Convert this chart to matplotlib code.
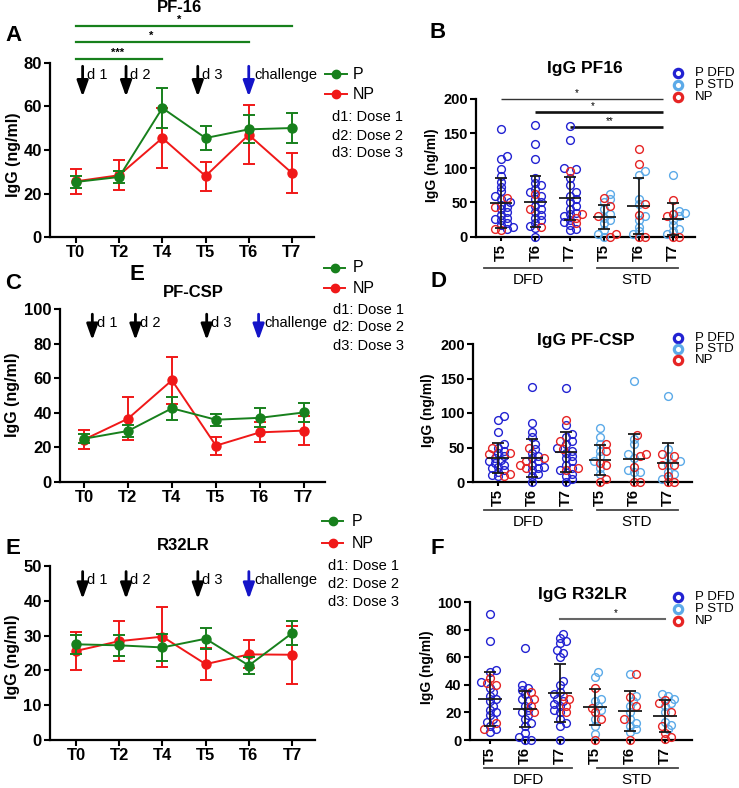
import numpy as np
import matplotlib
matplotlib.use('Agg')
import matplotlib.pyplot as plt

plt.rcParams['font.family'] = ['Liberation Sans', 'DejaVu Sans']

# ---------------- data ----------------
times = ['T0', 'T2', 'T4', 'T5', 'T6', 'T7']
scat_ticks = ['T5', 'T6', 'T7', 'T5', 'T6', 'T7']

pf16_p_mean = [25.3, 27.6, 59.3, 45.5, 49.5, 50.1]
pf16_p_err = [2.7, 2.9, 9.3, 5.7, 6.5, 6.8]
pf16_np_mean = [25.6, 28.4, 45.5, 28.0, 47.0, 29.4]
pf16_np_err = [5.8, 7.0, 14.0, 6.7, 13.5, 9.3]

csp_p_mean = [25.0, 29.5, 42.6, 36.0, 37.1, 40.2]
csp_p_err = [2.5, 3.3, 6.5, 3.5, 5.5, 5.5]
csp_np_mean = [24.5, 36.6, 58.8, 21.0, 28.7, 29.7]
csp_np_err = [5.4, 12.5, 13.5, 5.3, 5.8, 8.5]

r32_p_mean = [27.5, 27.2, 26.6, 29.1, 21.4, 30.7]
r32_p_err = [2.8, 3.0, 4.0, 3.0, 2.4, 3.5]
r32_np_mean = [25.6, 28.4, 29.7, 21.8, 24.6, 24.5]
r32_np_err = [5.5, 5.8, 8.6, 4.7, 4.0, 8.3]

# arrow positions (category index units): d1, d2, d3, challenge
pf16_arrows = [0.155, 1.16, 2.82, 4.0]
csp_arrows = [0.19, 1.17, 2.79, 3.97]
r32_arrows = [0.155, 1.16, 2.82, 4.0]
arrow_labels = ['d 1', 'd 2', 'd 3', 'challenge']

# scatter panels: per category (DFD T5,T6,T7, STD T5,T6,T7)
b_p = [[157, 117, 113, 99, 88, 80, 73, 66, 60, 55, 50, 47, 44, 40, 36, 32, 28, 26, 24, 20, 17, 14, 12],
       [162, 135, 113, 85, 78, 75, 70, 65, 60, 55, 50, 45, 40, 36, 32, 28, 24, 20, 16, 13, 0],
       [161, 140, 100, 98, 85, 75, 65, 60, 55, 50, 45, 40, 35, 33, 30, 25, 22, 18, 12, 10],
       [62, 55, 50, 40, 33, 28, 25, 20, 10, 5, 0],
       [95, 90, 55, 48, 30, 25, 15, 8, 5],
       [90, 38, 35, 30, 25, 18, 12, 8, 5]]
b_np = [[57, 44, 12, 10], [62, 40, 14], [95, 33, 28, 20],
        [57, 45, 30, 5, 0], [128, 106, 48, 32, 0, 0], [53, 33, 30, 0, 0]]
b_mean = [49, 51, 56, 29, 45, 26]
b_sd = [36, 37, 31, 18, 40, 23]

d_p = [[95, 90, 72, 55, 50, 45, 42, 38, 35, 32, 30, 28, 25, 22, 20, 18, 15, 10, 8],
       [137, 85, 72, 65, 55, 48, 42, 38, 35, 30, 25, 22, 20, 18, 12, 8, 0],
       [136, 83, 70, 65, 60, 55, 50, 45, 42, 38, 35, 30, 25, 20, 18, 12, 8, 5, 0],
       [78, 65, 55, 45, 38, 30, 20, 12],
       [146, 62, 55, 40, 35, 18, 15, 14],
       [125, 48, 38, 30, 25, 15, 12, 5]]
d_np = [[50, 42, 40, 12, 8], [50, 35, 30, 25, 20], [90, 60, 48, 20, 17],
        [55, 45, 28, 25, 5, 0], [68, 40, 38, 22, 0, 0], [40, 38, 25, 25, 8, 0, 0]]
d_mean = [35, 35, 44, 32, 34, 27]
d_sd = [22, 28, 29, 22, 36, 30]

f_p = [[91, 72, 51, 49, 42, 38, 35, 32, 30, 28, 25, 22, 20, 18, 15, 13, 10, 8, 6],
       [67, 40, 38, 36, 33, 30, 28, 25, 22, 20, 18, 15, 12, 10, 5, 2, 0, 0],
       [77, 74, 72, 70, 65, 63, 60, 43, 40, 35, 33, 30, 28, 26, 25, 22, 20, 15, 12, 10, 0],
       [49, 46, 30, 28, 25, 22, 15, 10, 4],
       [48, 32, 28, 25, 20, 15, 12, 10, 8, 6],
       [33, 32, 30, 27, 25, 20, 13, 11, 8]]
f_np = [[45, 41, 40, 12, 8], [35, 30, 25, 20], [32, 30, 25, 20],
        [38, 23, 20, 15, 0], [48, 31, 25, 15, 0], [29, 27, 20, 10, 5, 2, 1]]
f_mean = [29.5, 22.5, 34, 24, 21, 17.5]
f_sd = [19.5, 13, 21, 13, 14.5, 11.5]

# ---------------- style ----------------
GREEN = '#17801c'
RED = '#f01818'
ABLUE = '#1414c8'
SBLUE = '#2222d2'
LBLUE = '#5caae8'
SRED = '#e62424'

W, H = 739, 788
fig = plt.figure(figsize=(W / 100, H / 100), dpi=100)


def px_axes(x0, yt, x1, yb):
    return fig.add_axes([x0 / W, 1 - yb / H, (x1 - x0) / W, (yb - yt) / H])


def style_axes(ax):
    for s in ['top', 'right']:
        ax.spines[s].set_visible(False)
    for s in ['left', 'bottom']:
        ax.spines[s].set_linewidth(1.6)
    ax.tick_params(direction='out', length=4, width=1.5, pad=2)
    ax.patch.set_alpha(0)


def line_panel(ax, pm, pe, nm, ne, ymax, ystep, xl, arr_x, arr_top, arr_tip, txt_y):
    x = np.arange(len(times))
    ax.errorbar(x, nm, yerr=ne, color=RED, marker='o', ms=6.5, lw=1.4,
                capsize=4, capthick=1.4, elinewidth=1.4, zorder=3, clip_on=False)
    ax.errorbar(x, pm, yerr=pe, color=GREEN, marker='o', ms=6.5, lw=1.4,
                capsize=4, capthick=1.4, elinewidth=1.4, zorder=4, clip_on=False)
    ax.set_xlim(*xl)
    ax.set_ylim(0, ymax)
    ax.set_xticks(x)
    ax.set_xticklabels(times, fontweight='bold', fontsize=12)
    yt = np.arange(0, ymax + 0.1, ystep)
    ax.set_yticks(yt)
    ax.set_yticklabels([f'{v:g}' for v in yt], fontweight='bold', fontsize=12)
    style_axes(ax)
    for i, xa in enumerate(arr_x):
        col = ABLUE if i == 3 else 'black'
        ax.annotate('', xy=(xa, arr_tip), xytext=(xa, arr_top),
                    arrowprops=dict(arrowstyle='-|>,head_width=0.34,head_length=0.95',
                                    lw=2.0, color=col, shrinkA=0, shrinkB=0,
                                    mutation_scale=10),
                    annotation_clip=False)
        ax.text(xa + (0.13 if i == 3 else 0.1), txt_y, arrow_labels[i],
                fontsize=10.5, ha='left', va='center')


def swarm_offsets(vals, sx, sy, diam=6.6, fac=0.7):
    vals = np.asarray(vals, float)
    order = np.argsort(vals, kind='stable')
    placed = []
    offs = np.zeros(len(vals))
    step = diam * 0.45
    for i in order:
        yv = vals[i] * sy
        c = 0.0
        for k in range(60):
            c = ((k + 1) // 2) * step * (1 if k % 2 else -1)
            if all((c - px) ** 2 + (yv - py) ** 2 >= (diam * fac) ** 2 for px, py in placed):
                break
        offs[i] = c / sx
        placed.append((c, yv))
    return offs


def scatter_panel(ax, p_list, np_list, means, sds, ymax, ystep, xl, sx, sy):
    for i in range(6):
        pv = list(p_list[i])
        nv = list(np_list[i])
        allv = pv + nv
        offs = swarm_offsets(allv, sx, sy)
        cols = [SBLUE if i < 3 else LBLUE] * len(pv) + [SRED] * len(nv)
        for v, o, c in zip(allv, offs, cols):
            ax.plot(i + o, v, 'o', mfc='none', mec=c, ms=5.6, mew=1.0,
                    clip_on=False, zorder=3)
        m, s = means[i], sds[i]
        lo, hi = max(m - s, 0), m + s
        ax.hlines(m, i - 0.33, i + 0.33, color='#1a1a1a', lw=1.3, zorder=5)
        ax.vlines(i, lo, hi, color='#1a1a1a', lw=1.3, zorder=5)
        ax.hlines([lo, hi], i - 0.17, i + 0.17, color='#1a1a1a', lw=1.3, zorder=5)
    ax.set_xlim(*xl)
    ax.set_ylim(0, ymax)
    ax.set_xticks(range(6))
    ax.set_xticklabels(scat_ticks, rotation=90, fontweight='bold', fontsize=10.5)
    yt = np.arange(0, ymax + 0.1, ystep)
    ax.set_yticks(yt)
    ax.set_yticklabels([f'{v:g}' for v in yt], fontweight='bold', fontsize=10.5)
    style_axes(ax)
    ax.tick_params(axis='x', length=3)


# ---------------- line panels ----------------
axA = px_axes(50, 63, 314, 237)
line_panel(axA, pf16_p_mean, pf16_p_err, pf16_np_mean, pf16_np_err, 80, 20,
           (-0.60, 5.51), pf16_arrows, 78.5, 64.5, 74.5)
# significance bars (P group)
for (x0, x1, yv, star, sxp) in [(0, 2, 81.8, '***', 0.97), (0, 4, 89.7, '*', 1.74), (0, 5, 97.0, '*', 2.4)]:
    axA.plot([x0, x1], [yv, yv], color=GREEN, lw=1.6, clip_on=False)
    axA.text(sxp, yv + 0.4, star, ha='center', va='bottom', fontsize=8, fontweight='bold')

axC = px_axes(60, 309, 325, 482)
line_panel(axC, csp_p_mean, csp_p_err, csp_np_mean, csp_np_err, 100, 20,
           (-0.545, 5.48), csp_arrows, 97, 82, 92)

axE = px_axes(50, 566, 315, 740)
line_panel(axE, r32_p_mean, r32_p_err, r32_np_mean, r32_np_err, 50, 10,
           (-0.60, 5.53), r32_arrows, 48.4, 40.5, 46)

# ---------------- scatter panels ----------------
axB = px_axes(476, 99, 695, 237)
scatter_panel(axB, b_p, b_np, b_mean, b_sd, 200, 50, (-0.73, 5.64), 34.4, 0.69)
for (x0, yv, lw, col, star, sxp) in [(0, 200, 1.0, '#333333', '*', 2.2),
                                     (1, 181, 1.9, '#111111', '*', 2.67),
                                     (2, 159, 1.9, '#111111', '**', 3.17)]:
    axB.plot([x0, 4.7], [yv, yv], color=col, lw=lw, clip_on=False, solid_capstyle='butt')
    axB.text(sxp, yv + 2, star, ha='center', va='bottom', fontsize=7)

axD = px_axes(473, 344, 692, 482)
scatter_panel(axD, d_p, d_np, d_mean, d_sd, 200, 50, (-0.74, 5.7), 34.0, 0.69)

axF = px_axes(470, 602, 692, 740)
scatter_panel(axF, f_p, f_np, f_mean, f_sd, 100, 20, (-0.57, 5.77), 35.0, 1.38)
axF.plot([2, 5], [87.7, 87.7], color='#666666', lw=1.5, clip_on=False)
axF.text(3.6, 88.5, '*', ha='center', va='bottom', fontsize=7)

# ---------------- overlay annotations (pixel coords) ----------------
ov = fig.add_axes([0, 0, 1, 1])
ov.set_xlim(0, W)
ov.set_ylim(H, 0)
ov.axis('off')
ov.patch.set_alpha(0)

for (t, x, y) in [('A', 13, 35), ('B', 438, 32), ('C', 13, 283), ('E', 137, 275),
                  ('D', 438, 281), ('E', 13, 548), ('F', 437, 548)]:
    ov.text(x, y, t, fontsize=16, fontweight='bold', ha='center', va='center')

for (t, x, y, fs) in [('PF-16', 180, 7, 12), ('PF-CSP', 193, 292, 12), ('R32LR', 183, 546, 12),
                      ('IgG PF16', 585, 68, 12.5), ('IgG PF-CSP', 586, 340, 12.5),
                      ('IgG R32LR', 583, 594, 12.5)]:
    ov.text(x, y, t, fontsize=fs, fontweight='bold', ha='center', va='center')

for (x, y, fs) in [(14, 155, 11.5), (13, 395, 11.5), (13, 657, 11.5),
                   (432, 165, 10), (428, 410, 10), (427, 667, 10)]:
    ov.text(x, y, 'IgG (ng/ml)', fontsize=fs, fontweight='bold', rotation=90,
            ha='center', va='center')

# line panel legends
for (lx0, lx1, tx, dx, yp, ynp, yd) in [(325, 347, 353, 332, 74, 94, [117, 136, 153]),
                                         (324, 345, 353, 333, 268, 288, [310, 327, 346]),
                                         (322, 343, 352, 328, 521, 543, [566, 584, 602])]:
    for yy, col, lab in [(yp, GREEN, 'P'), (ynp, RED, 'NP')]:
        ov.plot([lx0, lx1], [yy, yy], color=col, lw=1.4)
        ov.plot((lx0 + lx1) / 2, yy, 'o', color=col, ms=6)
        ov.text(tx, yy, lab, fontsize=11.5, ha='left', va='center')
    for yy, lab in zip(yd, ['d1: Dose 1', 'd2: Dose 2', 'd3: Dose 3']):
        ov.text(dx, yy, lab, fontsize=10.5, ha='left', va='center')

# scatter legends
for ys in [(73, 85, 97), (338, 349, 360), (597, 609, 621)]:
    for yy, col, lab in zip(ys, [SBLUE, LBLUE, SRED], ['P DFD', 'P STD', 'NP']):
        ov.plot(678, yy, 'o', mfc='none', mec=col, ms=6, mew=2.3)
        ov.text(695, yy, lab, fontsize=9.5, ha='left', va='center')

# group labels under scatter panels
for (yl, yt) in [(268, 280), (510, 522), (768, 780)]:
    ov.plot([484, 572], [yl, yl], color='#444444', lw=1.3)
    ov.plot([597, 678], [yl, yl], color='#444444', lw=1.3)
    ov.text(528, yt, 'DFD', fontsize=11, ha='center', va='center')
    ov.text(637, yt, 'STD', fontsize=11, ha='center', va='center')

fig.savefig('out.png', dpi=100)
